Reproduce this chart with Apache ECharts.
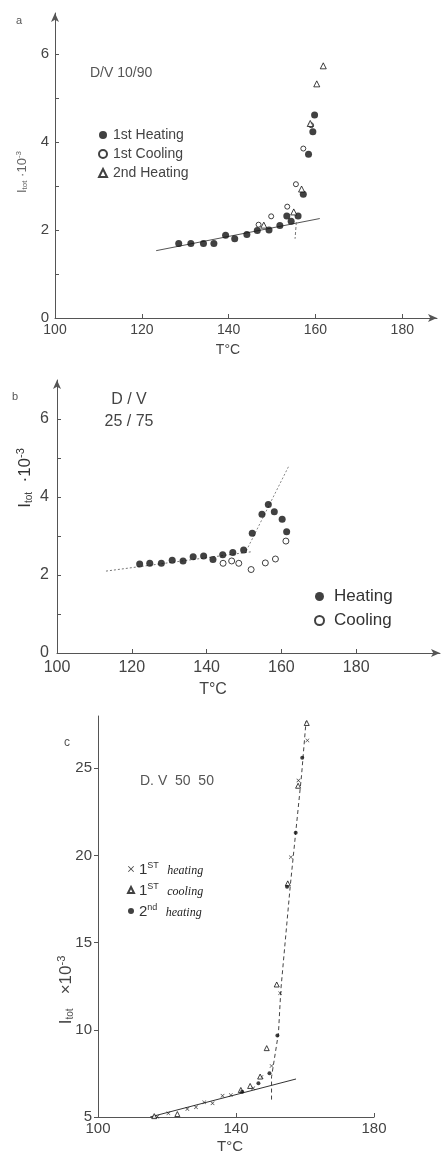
<!DOCTYPE html>
<html><head><meta charset="utf-8">
<script src="https://cdn.jsdelivr.net/npm/echarts@6/dist/echarts.min.js"></script>
<style>html,body{margin:0;padding:0;background:#fff}#c{width:444px;height:1152px}</style>
</head><body><div id="c"></div>
<script>
// ---- Panel a: D/V 10/90 (T in °C, I_tot·10^-3) ----
const aHeat1 = [[128.5,1.69],[131.3,1.69],[134.2,1.69],[136.6,1.69],[139.3,1.88],[141.4,1.80],[144.2,1.90],[146.6,1.99],[149.3,2.00],[151.8,2.10],[153.4,2.32],[154.4,2.20],[156.0,2.32],[157.2,2.81],[158.4,3.72],[159.4,4.23],[159.8,4.61]];
const aCool1 = [[146.9,2.12],[149.8,2.31],[153.5,2.53],[155.5,3.04],[157.2,3.85],[159.0,4.38]];
const aHeat2 = [[148.1,2.11],[155.0,2.41],[156.8,2.93],[158.8,4.42],[160.3,5.32],[161.8,5.73]];
const aFit = [[123.3,1.53],[161.0,2.26]];
const aMark = [[155.6,2.18],[155.3,1.80]];
const aXTicks = [100,120,140,160,180];
const aYTicks = [0,1,2,3,4,5,6];
const aYLabels = [0,2,4,6];

// ---- Panel b: D/V 25/75 ----
const bHeat = [[122.1,2.28],[124.8,2.30],[127.9,2.30],[130.8,2.38],[133.7,2.36],[136.4,2.47],[139.2,2.49],[141.7,2.40],[144.3,2.52],[147.0,2.58],[149.9,2.64],[152.2,3.07],[154.8,3.56],[156.5,3.81],[158.1,3.62],[160.2,3.43],[161.4,3.11]];
const bCool = [[144.4,2.30],[146.7,2.36],[148.6,2.30],[151.9,2.14],[155.7,2.31],[158.4,2.41],[161.2,2.87]];
const bFitLow = [[113.1,2.10],[152.3,2.60]];
const bFitHigh = [[150.6,2.62],[161.9,4.78]];
const bXTicks = [100,120,140,160,180];
const bYTicks = [0,1,2,3,4,5,6];
const bYLabels = [0,2,4,6];

// ---- Panel c: D/V 50/50 ----
const cHeat1 = [[117.2,5.02],[120.4,5.21],[125.9,5.46],[128.4,5.56],[130.8,5.84],[133.2,5.79],[136.1,6.22],[138.5,6.26],[145.0,6.65],[147.4,7.30],[150.3,7.93],[152.8,12.1],[155.9,19.9],[158.1,24.3],[160.7,26.6]];
const cCool1 = [[116.3,5.05],[123.0,5.17],[141.4,6.55],[144.1,6.78],[147.0,7.32],[148.9,8.95],[151.8,12.6],[155.0,18.4],[158.0,24.0],[160.5,27.6]];
const cHeat2 = [[141.8,6.45],[146.5,6.94],[149.7,7.51],[152.0,9.67],[154.8,18.2],[157.3,21.3],[159.2,25.6]];
const cFit = [[115.1,5.0],[157.4,7.18]];
const cCurve = [[150.3,6.0],[150.3,7.3],[152.3,9.8],[153.0,12.3],[155.7,18.2],[159.0,24.6],[160.3,27.7]];
const cXTicks = [100,140,180];
const cYTicks = [5,10,15,20,25];

const FONT = 'Liberation Sans';
const INK = '#111';
const AX = '#555';
const CROSS = 'path://M0,1L1,0L5,4L9,0L10,1L6,5L10,9L9,10L5,6L1,10L0,9L4,5Z';

function xAx(grid, min, max, ticks, fs, margin, arrow) {
  return {
    gridIndex: grid, type: 'value', min: min, max: max,
    axisLine: { show: true, onZero: false, lineStyle: { color: AX, width: 1 },
      symbol: arrow ? ['none', 'arrow'] : 'none', symbolSize: [6, 9] },
    axisTick: { show: true, inside: true, length: 4, customValues: ticks, lineStyle: { color: AX } },
    axisLabel: { customValues: ticks, fontSize: fs, color: '#444', fontFamily: FONT, margin: margin },
    splitLine: { show: false }
  };
}
function yAx(grid, min, max, ticks, labels, fs, margin, arrow, inside) {
  return {
    gridIndex: grid, type: 'value', min: min, max: max,
    axisLine: { show: true, onZero: false, lineStyle: { color: AX, width: 1 },
      symbol: arrow ? ['none', 'arrow'] : 'none', symbolSize: [6, 9] },
    axisTick: { show: true, inside: inside, length: 4, customValues: ticks, lineStyle: { color: AX } },
    axisLabel: { customValues: labels, fontSize: fs, color: '#444', fontFamily: FONT, margin: margin },
    splitLine: { show: false }
  };
}
function sc(name, data, xi, symbol, size, filled) {
  return {
    name: name, type: 'scatter', xAxisIndex: xi, yAxisIndex: xi, data: data,
    symbol: symbol, symbolSize: size, z: 3,
    itemStyle: filled ? { color: INK } : { color: '#fff', borderColor: INK, borderWidth: 1 }
  };
}
function ln(name, data, xi, type, color) {
  return {
    name: name, type: 'line', xAxisIndex: xi, yAxisIndex: xi, data: data,
    showSymbol: false, symbol: 'none', silent: true, z: 2,
    lineStyle: { color: color || '#444', width: 1, type: type || 'solid' }
  };
}

const chart = echarts.init(document.getElementById('c'), null, { renderer: 'canvas' });
chart.setOption({
  animation: false,
  backgroundColor: '#fff',
  textStyle: { fontFamily: FONT },
  grid: [
    { left: 55, top: 13, width: 382, height: 305 },
    { left: 57, top: 380, width: 383, height: 273 },
    { left: 98, top: 716, width: 276, height: 401 }
  ],
  xAxis: [
    xAx(0, 100, 188, aXTicks, 14, 5, true),
    xAx(1, 100, 202.4, bXTicks, 16, 7, true),
    xAx(2, 100, 180, cXTicks, 15, 4, false)
  ],
  yAxis: [
    yAx(0, 0, 6.93, aYTicks, aYLabels, 15, 6, true, true),
    yAx(1, 0, 7, bYTicks, bYLabels, 16, 8, true, true),
    yAx(2, 5, 28, cYTicks, cYTicks, 15, 6, false, false)
  ],
  legend: [
    { orient: 'vertical', left: 98, top: 128, padding: 0, itemWidth: 8, itemHeight: 8, itemGap: 5, selectedMode: false,
      textStyle: { fontSize: 14, color: '#444', lineHeight: 14, padding: [0, 0, 0, 1] },
      data: ['1st Heating', '1st Cooling', '2nd Heating'] },
    { orient: 'vertical', left: 314, top: 588, padding: 0, itemWidth: 9, itemHeight: 9, itemGap: 7, selectedMode: false,
      textStyle: { fontSize: 17, color: '#333', lineHeight: 17, padding: [0, 0, 0, 5] },
      data: ['Heating', 'Cooling'] },
    { orient: 'vertical', left: 127, top: 861, padding: 0, itemWidth: 6, itemHeight: 6, itemGap: 5, selectedMode: false,
      textStyle: { fontSize: 15, color: '#333', lineHeight: 16,
        rich: {
          n: { fontSize: 15, color: '#333', fontFamily: FONT, verticalAlign: 'bottom' },
          s: { fontSize: 9, color: '#333', fontFamily: FONT, verticalAlign: 'top', padding: [0, 0, 6, 0] },
          i: { fontSize: 12, color: '#222', fontStyle: 'italic', fontFamily: 'Liberation Serif', verticalAlign: 'bottom' }
        } },
      formatter: function (name) {
        const m = name.match(/^(\d)(\w+) (.*)$/);
        return '{n|' + m[1] + '}{s|' + m[2] + '}  {i|' + m[3] + '}';
      },
      data: ['1ST heating', '1ST cooling', '2nd heating'] }
  ],
  series: [
    ln('fit a', aFit, 0, 'solid', '#555'),
    ln('mark a', aMark, 0, [3, 2], '#777'),
    sc('1st Heating', aHeat1, 0, 'circle', 7, true),
    sc('1st Cooling', aCool1, 0, 'circle', 5, false),
    sc('2nd Heating', aHeat2, 0, 'triangle', 6, false),

    ln('fit b low', bFitLow, 1, [2, 2], '#777'),
    ln('fit b high', bFitHigh, 1, [2, 2], '#888'),
    sc('Heating', bHeat, 1, 'circle', 7, true),
    sc('Cooling', bCool, 1, 'circle', 6, false),

    ln('fit c', cFit, 2, 'solid', '#333'),
    ln('curve c', cCurve, 2, [4, 3], '#444'),
    sc('1ST heating', cHeat1, 2, CROSS, 4, true),
    sc('1ST cooling', cCool1, 2, 'triangle', 5, false),
    sc('2nd heating', cHeat2, 2, 'circle', 4, true)
  ],
  graphic: [
    { type: 'text', x: 19, y: 21, style: { text: 'a', fill: '#555', font: '11px ' + FONT, textAlign: 'center', textVerticalAlign: 'middle' } },
    { type: 'text', x: 90, y: 73, style: { text: 'D/V 10/90', fill: '#555', font: '14px ' + FONT, textAlign: 'left', textVerticalAlign: 'middle' } },
    { type: 'text', x: 22, y: 172, rotation: Math.PI / 2,
      style: { text: 'I{sub|tot} ·10{sup|-3}', fill: '#666', font: '13px ' + FONT, textAlign: 'center', textVerticalAlign: 'middle',
        rich: { sub: { fontSize: 8, fill: '#666', padding: [6, 0, 0, 0] }, sup: { fontSize: 8, fill: '#666', padding: [0, 0, 6, 0] } } } },
    { type: 'text', x: 228, y: 350, style: { text: 'T°C', fill: '#444', font: '14px ' + FONT, textAlign: 'center', textVerticalAlign: 'middle' } },

    { type: 'text', x: 15, y: 397, style: { text: 'b', fill: '#555', font: '11px ' + FONT, textAlign: 'center', textVerticalAlign: 'middle' } },
    { type: 'text', x: 129, y: 400, style: { text: 'D / V', fill: '#444', font: '16px ' + FONT, textAlign: 'center', textVerticalAlign: 'middle' } },
    { type: 'text', x: 129, y: 422, style: { text: '25 / 75', fill: '#444', font: '16px ' + FONT, textAlign: 'center', textVerticalAlign: 'middle' } },
    { type: 'text', x: 25, y: 478, rotation: Math.PI / 2,
      style: { text: 'I{sub|tot}  ·10{sup|-3}', fill: '#333', font: '17px ' + FONT, textAlign: 'center', textVerticalAlign: 'middle',
        rich: { sub: { fontSize: 10, fill: '#444', padding: [8, 0, 0, 0] }, sup: { fontSize: 11, fill: '#333', padding: [0, 0, 8, 0] } } } },
    { type: 'text', x: 213, y: 690, style: { text: 'T°C', fill: '#444', font: '16px ' + FONT, textAlign: 'center', textVerticalAlign: 'middle' } },

    { type: 'text', x: 67, y: 743, style: { text: 'c', fill: '#555', font: '12px ' + FONT, textAlign: 'center', textVerticalAlign: 'middle' } },
    { type: 'text', x: 140, y: 781, style: { text: 'D. V  50  50', fill: '#555', font: '14px ' + FONT, textAlign: 'left', textVerticalAlign: 'middle' } },
    { type: 'text', x: 66, y: 990, rotation: Math.PI / 2,
      style: { text: 'I{sub|tot}   ×10{sup|-3}', fill: '#444', font: '17px ' + FONT, textAlign: 'center', textVerticalAlign: 'middle',
        rich: { sub: { fontSize: 10, fill: '#555', padding: [8, 0, 0, 0] }, sup: { fontSize: 11, fill: '#444', padding: [0, 0, 8, 0] } } } },
    { type: 'text', x: 230, y: 1147, style: { text: 'T°C', fill: '#444', font: '15px ' + FONT, textAlign: 'center', textVerticalAlign: 'middle' } }
  ]
});
</script>
</body></html>
